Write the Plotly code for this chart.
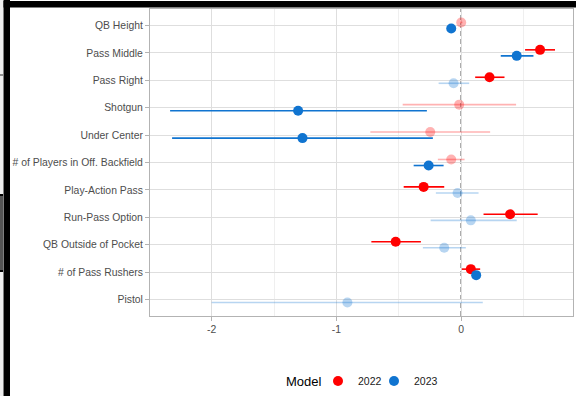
import plotly.graph_objects as go

categories = ["QB Height", "Pass Middle", "Pass Right", "Shotgun", "Under Center",
              "# of Players in Off. Backfield", "Play-Action Pass", "Run-Pass Option",
              "QB Outside of Pocket", "# of Pass Rushers", "Pistol"]

est_2022 = [0.00, 0.632, 0.227, -0.016, -0.248, -0.080, -0.301, 0.392, -0.525, 0.077, None]
lo_2022 = [-0.01, 0.512, 0.112, -0.469, -0.728, -0.187, -0.461, 0.179, -0.720, 0.005, None]
hi_2022 = [0.01, 0.752, 0.347, 0.440, 0.232, 0.027, -0.136, 0.613, -0.323, 0.152, None]
sig_2022 = [False, True, True, False, False, False, True, True, True, True, False]

est_2023 = [-0.080, 0.445, -0.061, -1.307, -1.272, -0.261, -0.029, 0.077, -0.136, 0.120, -0.912]
lo_2023 = [-0.09, 0.317, -0.181, -2.333, -2.317, -0.381, -0.203, -0.245, -0.307, 0.110, -2.000]
hi_2023 = [-0.07, 0.579, 0.064, -0.275, -0.227, -0.141, 0.139, 0.445, 0.037, 0.130, 0.173]
sig_2023 = [True, True, False, True, True, True, False, False, False, True, False]

years = ["2022", "2023"]
colors = {"2022": (255, 0, 0), "2023": (16, 116, 208)}
offsets = {"2022": -0.11, "2023": 0.11}
legend_ids = {"2022": "legend", "2023": "legend2"}
data = {"2022": (est_2022, lo_2022, hi_2022, sig_2022),
        "2023": (est_2023, lo_2023, hi_2023, sig_2023)}

fig = go.Figure()

fig.add_vline(x=0, line=dict(color="#333333", width=1.2, dash="5px,3px"), layer="below")

for yr in years:
    est, lo, hi, sig = data[yr]
    r, g, b = colors[yr]
    for is_sig in (False, True):
        alpha = 1.0 if is_sig else 0.3
        col = f"rgba({r},{g},{b},{alpha})"
        xs, ys, ep, em = [], [], [], []
        for i, e in enumerate(est):
            if e is None or sig[i] != is_sig:
                continue
            xs.append(e)
            ys.append(i + offsets[yr])
            ep.append(hi[i] - e)
            em.append(e - lo[i])
        fig.add_trace(go.Scatter(
            x=xs, y=ys, mode="markers",
            marker=dict(color=col, size=10, line=dict(width=0)),
            error_x=dict(type="data", array=ep, arrayminus=em, color=col,
                         thickness=1.6, width=0),
            showlegend=False, hoverinfo="skip"))
    fig.add_trace(go.Scatter(
        x=[None], y=[None], mode="markers", name=yr, legend=legend_ids[yr],
        marker=dict(color=f"rgb({r},{g},{b})", size=10)))

# frame artifacts of the reference screenshot (pixel positions)
W, L, T, H = 423.0, 150.0, 9.0, 307.0
def px(xp):
    return (xp - L) / W
def py(yp):
    return (T + H - yp) / H
def box(x0, x1, y0, y1, fill):
    fig.add_shape(type="rect", xref="paper", yref="paper",
                  x0=px(x0), x1=px(x1), y0=py(y1), y1=py(y0),
                  fillcolor=fill, line=dict(width=0), layer="above")
box(0, 3, 0, 400, "#eeeeee")
box(3.5, 10, 0, 400, "#000000")
box(3.5, 580, 1, 7.5, "#000000")
box(0, 3, 194, 272, "#555555")
box(0, 3, 194, 196, "#000000")
box(0, 3, 270, 272, "#000000")
box(0, 3, 74.5, 75.5, "#333333")

fig.add_annotation(text="Model", xref="paper", yref="paper", x=px(324), y=py(381),
                   xanchor="right", yanchor="middle", showarrow=False,
                   font=dict(size=13, color="black"))

leg_common = dict(orientation="h", xref="container", yref="container",
                  xanchor="left", yanchor="middle", y=1 - 381 / 396.0,
                  font=dict(size=10.5, color="#1A1A1A"), itemwidth=30,
                  bgcolor="rgba(0,0,0,0)")

fig.update_layout(
    width=576, height=396,
    margin=dict(l=150, r=3, t=9, b=80, autoexpand=False),
    paper_bgcolor="white", plot_bgcolor="white",
    font=dict(family="Liberation Sans, Arial, sans-serif", color="#4D4D4D", size=10.4),
    xaxis=dict(range=[-2.494, 0.896], tickvals=[-2, -1, 0], ticktext=["-2", "-1", "0"],
               showgrid=True, gridcolor="#DEDEDE", gridwidth=1,
               minor=dict(tickvals=[-1.5, -0.5, 0.5], showgrid=True, gridcolor="#EFEFEF", gridwidth=1),
               zeroline=False, showline=True, linecolor="#B3B3B3", linewidth=1, mirror=True,
               ticks="outside", ticklen=4, tickcolor="#B3B3B3", tickfont=dict(size=10.4, color="#4D4D4D")),
    yaxis=dict(range=[10.6, -0.6], tickvals=list(range(len(categories))), ticktext=categories,
               showgrid=True, gridcolor="#DEDEDE", gridwidth=1, zeroline=False,
               showline=True, linecolor="#B3B3B3", linewidth=1, mirror=True,
               ticks="outside", ticklen=4, tickcolor="#B3B3B3", tickfont=dict(size=10.4, color="#4D4D4D")),
    legend=dict(x=318 / 576.0, **leg_common),
    legend2=dict(x=374 / 576.0, **leg_common),
)

fig.write_html("out.html", config={"displayModeBar": False},
               post_script="document.body.style.margin='0';")
